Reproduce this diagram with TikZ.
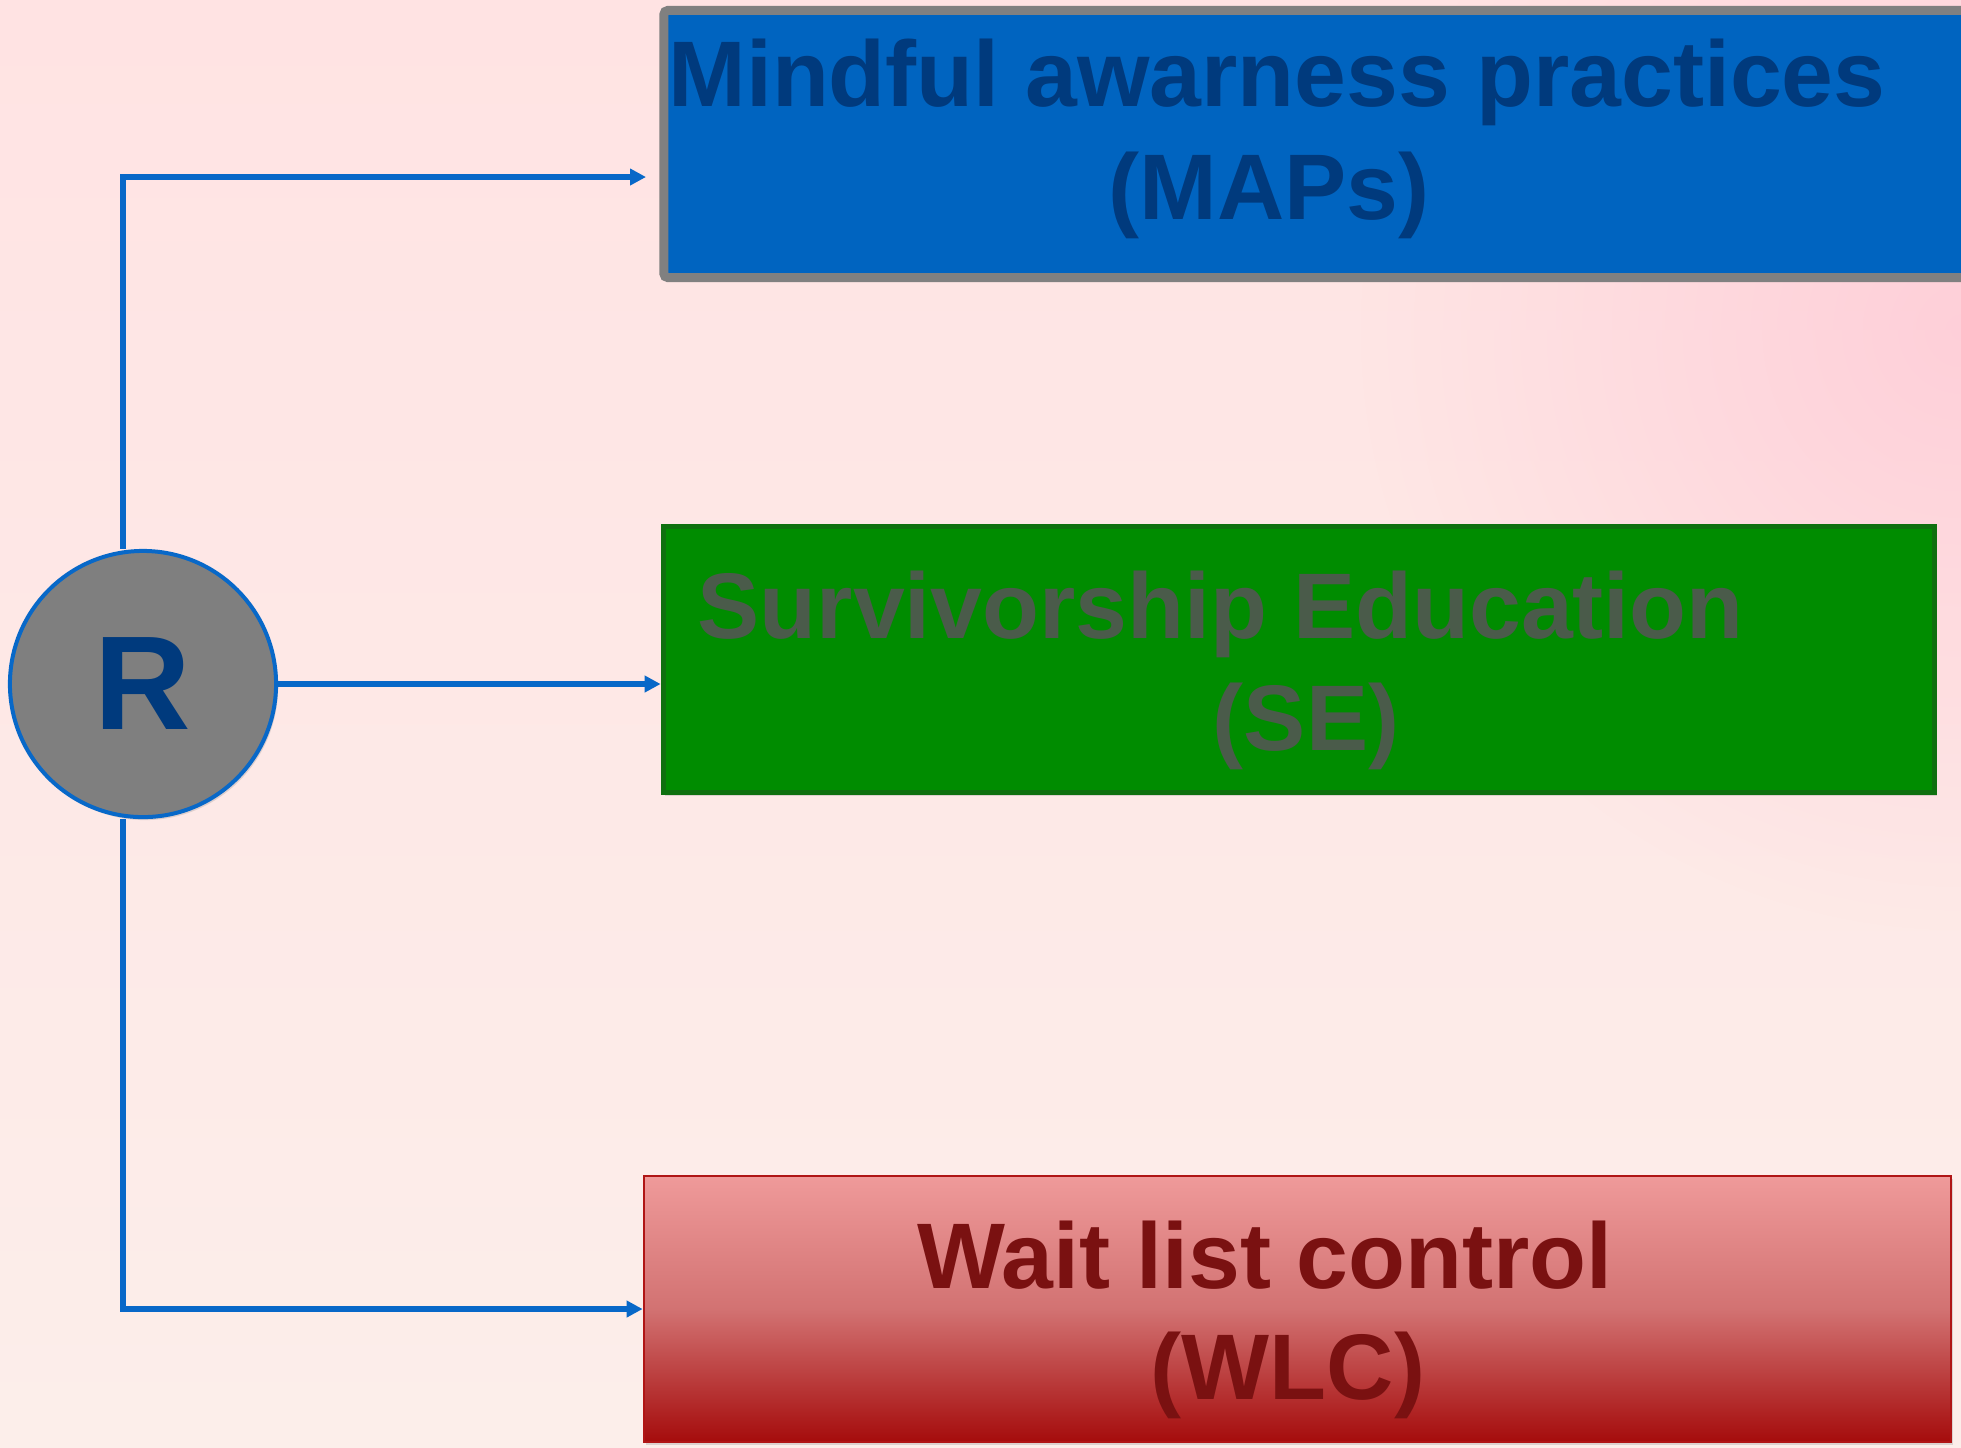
\documentclass[tikz,border=0pt]{standalone}
\usepackage{fontspec}
\setmainfont{Liberation Sans}
\usetikzlibrary{arrows.meta,shadows,fadings}
\definecolor{bgtop}{HTML}{FFE3E3}
\definecolor{bgbot}{HTML}{FCEEEA}
\definecolor{bgpink}{HTML}{FFCAD6}
\definecolor{lineblue}{HTML}{0868C8}
\definecolor{navy}{HTML}{003A7D}
\definecolor{mapfill}{HTML}{0064C0}
\definecolor{mapdraw}{HTML}{808080}
\definecolor{sefill}{HTML}{008C00}
\definecolor{sedraw}{HTML}{0F700F}
\definecolor{setext}{HTML}{4A5B4A}
\definecolor{wltop}{HTML}{EF9A9A}
\definecolor{wlmid}{HTML}{D27272}
\definecolor{wlbot}{HTML}{A50C0C}
\definecolor{wldraw}{HTML}{B01515}
\definecolor{wltext}{HTML}{7A1111}
\definecolor{rfill}{HTML}{7F7F7F}
\tikzfading[name=softspot, inner color=transparent!20, outer color=transparent!100]
\tikzset{
  conn/.style={draw=lineblue, line width=0.055cm},
  tip/.style={-{Triangle[length=0.16cm,width=0.16cm]}},
  shad/.style={drop shadow={opacity=0.25, shadow xshift=0.02cm, shadow yshift=-0.03cm}},
  boxbase/.style={rectangle, inner sep=0pt, shad},
  lbl/.style={anchor=base, inner sep=0pt, font=\fontsize{26.5}{31}\selectfont\bfseries},
}
\begin{document}
\begin{tikzpicture}[x=0.01cm, y=-0.01cm]
\useasboundingbox (0,0) rectangle (1961,1447);
\clip (0,0) rectangle (1961,1447);
% background
\shade[top color=bgtop, bottom color=bgbot] (0,0) rectangle (1961,1447);
\fill[bgpink, path fading=softspot] (1961,330) circle (600);

% boxes
\node[boxbase, fill=mapfill, draw=mapdraw, line width=0.09cm, rounded corners=0.04cm,
      minimum width=13.11cm, minimum height=2.67cm] (maps) at (1319.75,144) {};
\node[boxbase, fill=sefill, draw=sedraw, line width=0.05cm,
      minimum width=12.71cm, minimum height=2.66cm] (se) at (1299,659.5) {};
\node[boxbase, top color=wltop, bottom color=wlbot, middle color=wlmid, draw=wldraw, line width=0.02cm,
      minimum width=13.07cm, minimum height=2.66cm] (wlc) at (1297.5,1309) {};

% texts
\node[lbl, text=navy] (t1a) at (1277,106) {Mindful awarness practices};
\node[lbl, text=navy] (t1b) at (1269,219) {(MAPs)};
\node[lbl, text=setext, anchor=base west] (t2a) at (697,638) {Survivorship Education};
\node[lbl, text=setext] (t2b) at (1306,750) {(SE)};
\node[lbl, text=wltext] (t3a) at (1265,1288) {Wait list control};
\node[lbl, text=wltext] (t3b) at (1288,1399) {(WLC)};

% circle
\node[circle, fill=rfill, draw=lineblue, line width=0.04cm, minimum size=2.66cm, inner sep=0pt, shad,
      font=\fontsize{38}{40}\selectfont\bfseries, text=navy] (R) at (143,684) {R};

% connectors
\coordinate (tc) at (123,177);
\coordinate (ta) at (646,177);
\coordinate (bc) at (123,1309);
\draw[conn, tip] (tc |- R.north) -- (tc) -- (ta);
\draw[conn, tip] (R.east) -- (R.east -| se.west);
\draw[conn, tip] (bc |- R.south) -- (bc) -- (bc -| wlc.west);
\end{tikzpicture}
\end{document}
